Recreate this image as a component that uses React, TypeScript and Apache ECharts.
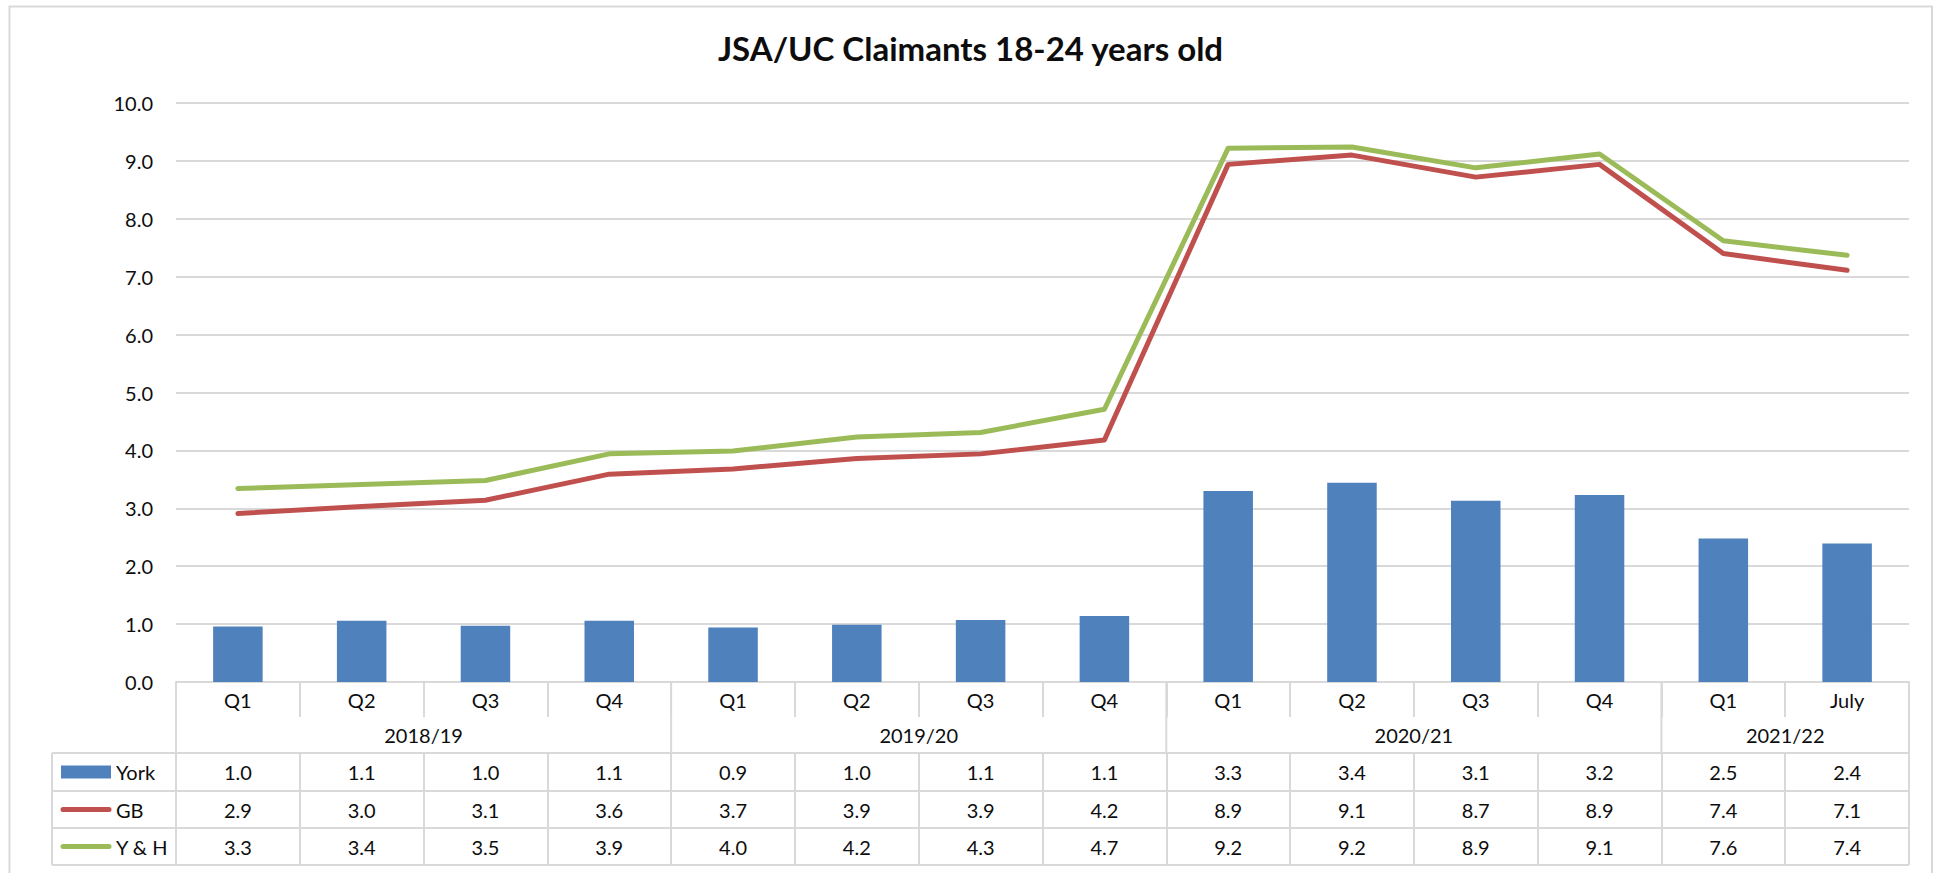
import React, { useEffect, useRef } from 'react';
import * as echarts from 'echarts';

const categories = ['Q1', 'Q2', 'Q3', 'Q4', 'Q1', 'Q2', 'Q3', 'Q4', 'Q1', 'Q2', 'Q3', 'Q4', 'Q1', 'July'];
const groupNames = ['2018/19', '2019/20', '2020/21', '2021/22'];
const groupSizes = [4, 4, 4, 2];
const yTicks = [0, 1, 2, 3, 4, 5, 6, 7, 8, 9, 10];

const york = [0.96, 1.06, 0.97, 1.06, 0.94, 0.99, 1.07, 1.14, 3.30, 3.44, 3.13, 3.23, 2.48, 2.39];
const gb = [2.91, 3.03, 3.14, 3.59, 3.68, 3.86, 3.94, 4.18, 8.94, 9.10, 8.72, 8.94, 7.40, 7.11];
const yh = [3.34, 3.41, 3.48, 3.94, 3.99, 4.23, 4.31, 4.71, 9.22, 9.24, 8.88, 9.12, 7.62, 7.37];

const seriesNames = ['York', 'GB', 'Y & H'];
const title = 'JSA/UC Claimants 18-24 years old';

const W = 1941;
const H = 873;
const L = 176;
const R = 1909;
const T = 103;
const B = 682;
const Q_ROW_BOTTOM = 717;
const ROW_TOPS = [753, 791, 828];
const TABLE_BOTTOM = 865;
const TABLE_LEFT = 52;
const GRAY = '#D9D9D9';
const TEXT = '#0d0d0d';
const FONT = 'Lato';
const BLUE = '#4F81BD';
const RED = '#C0504D';
const GREEN = '#9BBB59';
const LINE_W = 5;

export default function App() {
  const ref = useRef<HTMLDivElement>(null);

  useEffect(() => {
    const chart = echarts.init(ref.current!, null, { renderer: 'svg' });
    const cw = (R - L) / categories.length;

    const line = (x1: number, y1: number, x2: number, y2: number) => ({
      type: 'line',
      silent: true,
      shape: { x1, y1, x2, y2 },
      style: { stroke: GRAY, lineWidth: 2 },
    });

    const graphics: any[] = [];
    // chart border
    graphics.push({
      type: 'rect',
      silent: true,
      shape: { x: 9.5, y: 6.5, width: 1922.5, height: 880 },
      style: { fill: 'none', stroke: GRAY, lineWidth: 2 },
    });
    // group row separators and labels
    let acc = 0;
    const bounds = [0];
    groupSizes.forEach((s) => {
      acc += s;
      bounds.push(acc);
    });
    bounds.forEach((b) => {
      graphics.push(line(L + b * cw, B, L + b * cw, ROW_TOPS[0]));
    });
    groupNames.forEach((g, i) => {
      const mid = (bounds[i] + bounds[i + 1]) / 2;
      graphics.push({
        type: 'text',
        silent: true,
        x: L + mid * cw,
        y: (Q_ROW_BOTTOM + ROW_TOPS[0]) / 2,
        style: {
          text: g,
          align: 'center',
          verticalAlign: 'middle',
          fontSize: 20,
          fontFamily: FONT,
          fill: TEXT,
        },
      });
    });
    // left column of the data table
    [...ROW_TOPS, TABLE_BOTTOM].forEach((y) => {
      graphics.push(line(TABLE_LEFT, y, L, y));
    });
    graphics.push(line(L, TABLE_BOTTOM, R, TABLE_BOTTOM));
    graphics.push(line(TABLE_LEFT, ROW_TOPS[0], TABLE_LEFT, TABLE_BOTTOM));
    graphics.push(line(L, ROW_TOPS[0], L, TABLE_BOTTOM));

    // legend keys inside the table's left column
    const rowBottoms = [ROW_TOPS[1], ROW_TOPS[2], TABLE_BOTTOM];
    const colors = [BLUE, RED, GREEN];
    seriesNames.forEach((name, i) => {
      const cy = (ROW_TOPS[i] + rowBottoms[i]) / 2;
      if (i === 0) {
        graphics.push({
          type: 'rect',
          silent: true,
          shape: { x: 61, y: cy - 6.5, width: 50, height: 13 },
          style: { fill: colors[i] },
        });
      } else {
        graphics.push({
          type: 'line',
          silent: true,
          shape: { x1: 63, y1: cy, x2: 109, y2: cy },
          style: { stroke: colors[i], lineWidth: LINE_W, lineCap: 'round' },
        });
      }
      graphics.push({
        type: 'text',
        silent: true,
        x: 116,
        y: cy,
        style: {
          text: name,
          align: 'left',
          verticalAlign: 'middle',
          fontSize: 20,
          fontFamily: FONT,
          fill: TEXT,
        },
      });
    });

    const rowAxis = (vals: number[], top: number, bottom: number) => ({
      type: 'category',
      data: categories,
      position: 'bottom',
      gridIndex: 0,
      offset: top - B,
      axisLine: { show: true, onZero: false, lineStyle: { color: GRAY, width: 2 } },
      axisTick: { show: true, interval: 0, length: bottom - top, lineStyle: { color: GRAY, width: 2 } },
      axisLabel: {
        interval: 0,
        margin: (bottom - top) / 2,
        verticalAlign: 'middle',
        fontSize: 20,
        fontFamily: FONT,
        color: TEXT,
        formatter: (_v: string, i: number) => vals[i].toFixed(1),
      },
      splitLine: { show: false },
    });

    const option: any = {
      animation: false,
      backgroundColor: '#fff',
      textStyle: { fontFamily: FONT },
      title: {
        text: title,
        left: 'center',
        top: 31,
        padding: 0,
        textStyle: { fontSize: 33, fontWeight: 'bold', color: TEXT, fontFamily: FONT, lineHeight: 33 },
      },
      grid: { left: L, right: W - R, top: T, bottom: H - B, containLabel: false },
      xAxis: [
        {
          type: 'category',
          data: categories,
          position: 'bottom',
          axisLine: { show: true, onZero: false, lineStyle: { color: GRAY, width: 2 } },
          axisTick: { show: true, interval: 0, length: Q_ROW_BOTTOM - B, lineStyle: { color: GRAY, width: 2 } },
          axisLabel: {
            interval: 0,
            margin: (Q_ROW_BOTTOM - B) / 2,
            verticalAlign: 'middle',
            fontSize: 20,
            fontFamily: FONT,
            color: TEXT,
          },
          splitLine: { show: false },
        },
        rowAxis(york, ROW_TOPS[0], ROW_TOPS[1]),
        rowAxis(gb, ROW_TOPS[1], ROW_TOPS[2]),
        rowAxis(yh, ROW_TOPS[2], TABLE_BOTTOM),
      ],
      yAxis: {
        type: 'value',
        min: yTicks[0],
        max: yTicks[yTicks.length - 1],
        interval: 1,
        axisLine: { show: false },
        axisTick: { show: false },
        axisLabel: {
          margin: 23,
          fontSize: 20,
          fontFamily: FONT,
          color: TEXT,
          formatter: (v: number) => v.toFixed(1),
        },
        splitLine: { lineStyle: { color: GRAY, width: 2 } },
      },
      series: [
        {
          name: seriesNames[0],
          type: 'bar',
          data: york,
          barWidth: '40%',
          itemStyle: { color: BLUE },
          z: 2,
        },
        {
          name: seriesNames[1],
          type: 'line',
          data: gb,
          symbol: 'none',
          lineStyle: { color: RED, width: LINE_W, cap: 'round', join: 'round' },
          itemStyle: { color: RED },
          z: 3,
        },
        {
          name: seriesNames[2],
          type: 'line',
          data: yh,
          symbol: 'none',
          lineStyle: { color: GREEN, width: LINE_W, cap: 'round', join: 'round' },
          itemStyle: { color: GREEN },
          z: 3,
        },
      ],
      graphic: graphics,
    };

    chart.setOption(option);
    return () => chart.dispose();
  }, []);

  return (
    <div
      ref={ref}
      style={{ position: 'absolute', left: 0, top: 0, width: W, height: H, background: '#fff' }}
    />
  );
}
